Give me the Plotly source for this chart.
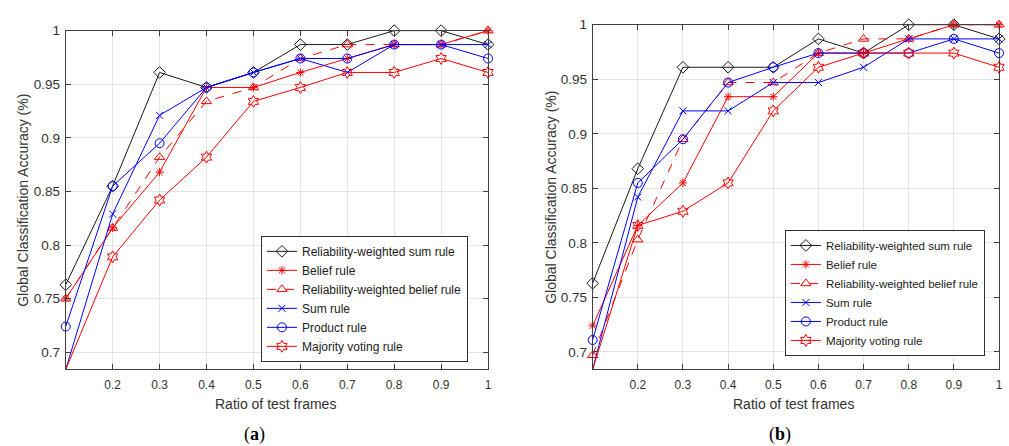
import plotly.graph_objects as go

# ---------------- data ----------------
ratio = [0.1, 0.2, 0.3, 0.4, 0.5, 0.6, 0.7, 0.8, 0.9, 1.0]

series_names = [
    "Reliability-weighted sum rule",
    "Belief rule",
    "Reliability-weighted belief rule",
    "Sum rule",
    "Product rule",
    "Majority voting rule",
]

# panel (a)
a_rw_sum = [0.763, 0.855, 0.961, 0.947, 0.961, 0.987, 0.987, 1.000, 1.000, 0.987]
a_belief = [0.750, 0.816, 0.868, 0.947, 0.947, 0.961, 0.974, 0.987, 0.987, 1.000]
a_rw_belief = [0.750, 0.816, 0.882, 0.934, 0.947, 0.974, 0.987, 0.987, 0.987, 1.000]
a_sum = [0.684, 0.829, 0.921, 0.947, 0.961, 0.974, 0.961, 0.987, 0.987, 0.987]
a_product = [0.724, 0.855, 0.895, 0.947, 0.961, 0.974, 0.974, 0.987, 0.987, 0.974]
a_majority = [0.684, 0.789, 0.842, 0.882, 0.934, 0.947, 0.961, 0.961, 0.974, 0.961]

# panel (b)
b_rw_sum = [0.763, 0.868, 0.961, 0.961, 0.961, 0.987, 0.974, 1.000, 1.000, 0.987]
b_belief = [0.724, 0.816, 0.855, 0.934, 0.934, 0.974, 0.974, 0.987, 1.000, 1.000]
b_rw_belief = [0.697, 0.803, 0.895, 0.947, 0.947, 0.974, 0.987, 0.987, 1.000, 1.000]
b_sum = [0.684, 0.842, 0.921, 0.921, 0.947, 0.947, 0.961, 0.987, 0.987, 0.987]
b_product = [0.711, 0.855, 0.895, 0.947, 0.961, 0.974, 0.974, 0.974, 0.987, 0.974]
b_majority = [0.684, 0.816, 0.829, 0.855, 0.921, 0.961, 0.974, 0.974, 0.974, 0.961]

x_tick_vals = [0.2, 0.3, 0.4, 0.5, 0.6, 0.7, 0.8, 0.9, 1.0]
x_tick_text = ["0.2", "0.3", "0.4", "0.5", "0.6", "0.7", "0.8", "0.9", "1"]
y_tick_vals = [0.7, 0.75, 0.8, 0.85, 0.9, 0.95, 1.0]
y_tick_text = ["0.7", "0.75", "0.8", "0.85", "0.9", "0.95", "1"]

# ---------------- styles ----------------
BLACK = "#1a1a1a"
RED = "#ff0000"
BLUE = "#0000ff"
styles = [
    dict(color=BLACK, symbol="diamond-open", dash="solid", size=9),
    dict(color=RED, symbol="asterisk-open", dash="solid", size=7),
    dict(color=RED, symbol="triangle-up-open", dash="dash", size=9),
    dict(color=BLUE, symbol="x-thin-open", dash="solid", size=7),
    dict(color=BLUE, symbol="circle-open", dash="solid", size=9),
    dict(color=RED, symbol="hexagram-open", dash="solid", size=9),
]

FONT = "Liberation Sans, Arial, sans-serif"

fig = go.Figure()

panels = [
    ("x", "y", "legend", [a_rw_sum, a_belief, a_rw_belief, a_sum, a_product, a_majority]),
    ("x2", "y2", "legend2", [b_rw_sum, b_belief, b_rw_belief, b_sum, b_product, b_majority]),
]
for xa, ya, lg, data in panels:
    for name, vals, st in zip(series_names, data, styles):
        fig.add_trace(go.Scatter(
            x=ratio, y=vals, name=name, mode="lines+markers",
            xaxis=xa, yaxis=ya, legend=lg, cliponaxis=False,
            line=dict(color=st["color"], width=1, dash=st["dash"]),
            marker=dict(symbol=st["symbol"], size=st["size"], color=st["color"],
                        line=dict(color=st["color"], width=1)),
        ))

H = 446.0
W = 1009.0


def xaxis_cfg(dom):
    return dict(domain=dom, range=[0.1, 1.0], tickvals=x_tick_vals, ticktext=x_tick_text,
                showgrid=True, gridcolor="#e4e4e4", gridwidth=1, zeroline=False,
                showline=True, linecolor="#404040", linewidth=1, mirror="ticks",
                ticks="inside", ticklen=5, tickcolor="#404040",
                tickfont=dict(family=FONT, size=12, color="#333333"),
                ticklabelstandoff=4, fixedrange=True)


def yaxis_cfg(dom, anchor):
    return dict(domain=dom, anchor=anchor, range=[0.6842, 1.0], tickvals=y_tick_vals,
                ticktext=y_tick_text, showgrid=True, gridcolor="#e4e4e4", gridwidth=1,
                zeroline=False, showline=True, linecolor="#404040", linewidth=1,
                mirror="ticks", ticks="inside", ticklen=5, tickcolor="#404040",
                tickfont=dict(family=FONT, size=13.5, color="#333333"),
                ticklabelstandoff=2, fixedrange=True)


layout = dict(
    width=1009, height=446,
    margin=dict(l=0, r=0, t=0, b=0),
    paper_bgcolor="white", plot_bgcolor="white",
    showlegend=True,
    xaxis=dict(xaxis_cfg([66 / W, 490 / W]), anchor="y"),
    yaxis=yaxis_cfg([1 - 368 / H, 1 - 24 / H], "x"),
    xaxis2=dict(xaxis_cfg([595 / W, 1003 / W]), anchor="y2"),
    yaxis2=yaxis_cfg([1 - 368 / H, 1 - 18 / H], "x2"),
    legend=dict(x=262 / W, y=1 - 296.5 / H, xanchor="left", yanchor="middle",
                bgcolor="white", bordercolor="#333333", borderwidth=1,
                font=dict(family=FONT, size=12, color="#222222"),
                tracegroupgap=0, itemwidth=30),
    legend2=dict(x=788 / W, y=1 - 290.5 / H, xanchor="left", yanchor="middle",
                 bgcolor="white", bordercolor="#333333", borderwidth=1,
                 font=dict(family=FONT, size=11.5, color="#222222"),
                 tracegroupgap=0, itemwidth=30),
)
fig.update_layout(**layout)

ann_font = dict(family=FONT, size=14, color="#333333")
annotations = [
    dict(text="Global Classification Accuracy (%)", x=23 / W, y=1 - 196 / H, textangle=-90,
         xref="paper", yref="paper", showarrow=False, font=ann_font,
         xanchor="center", yanchor="middle"),
    dict(text="Global Classification Accuracy (%)", x=553 / W, y=1 - 193 / H, textangle=-90,
         xref="paper", yref="paper", showarrow=False, font=ann_font,
         xanchor="center", yanchor="middle"),
    dict(text="Ratio of test frames", x=277 / W, y=1 - 403 / H, xref="paper", yref="paper",
         showarrow=False, font=ann_font, xanchor="center", yanchor="middle"),
    dict(text="Ratio of test frames", x=797 / W, y=1 - 403 / H, xref="paper", yref="paper",
         showarrow=False, font=ann_font, xanchor="center", yanchor="middle"),
    dict(text="(<b>a</b>)", x=256 / W, y=1 - 434 / H, xref="paper", yref="paper",
         showarrow=False, font=dict(family="Liberation Serif, serif", size=18, color="#000000"),
         xanchor="center", yanchor="middle"),
    dict(text="(<b>b</b>)", x=783 / W, y=1 - 434 / H, xref="paper", yref="paper",
         showarrow=False, font=dict(family="Liberation Serif, serif", size=18, color="#000000"),
         xanchor="center", yanchor="middle"),
]
fig.update_layout(annotations=annotations)

fig.write_html(
    "out.html",
    config={"displayModeBar": False},
    post_script="document.body.style.margin='0';document.body.style.padding='0';"
                "document.body.style.overflow='hidden';",
)
